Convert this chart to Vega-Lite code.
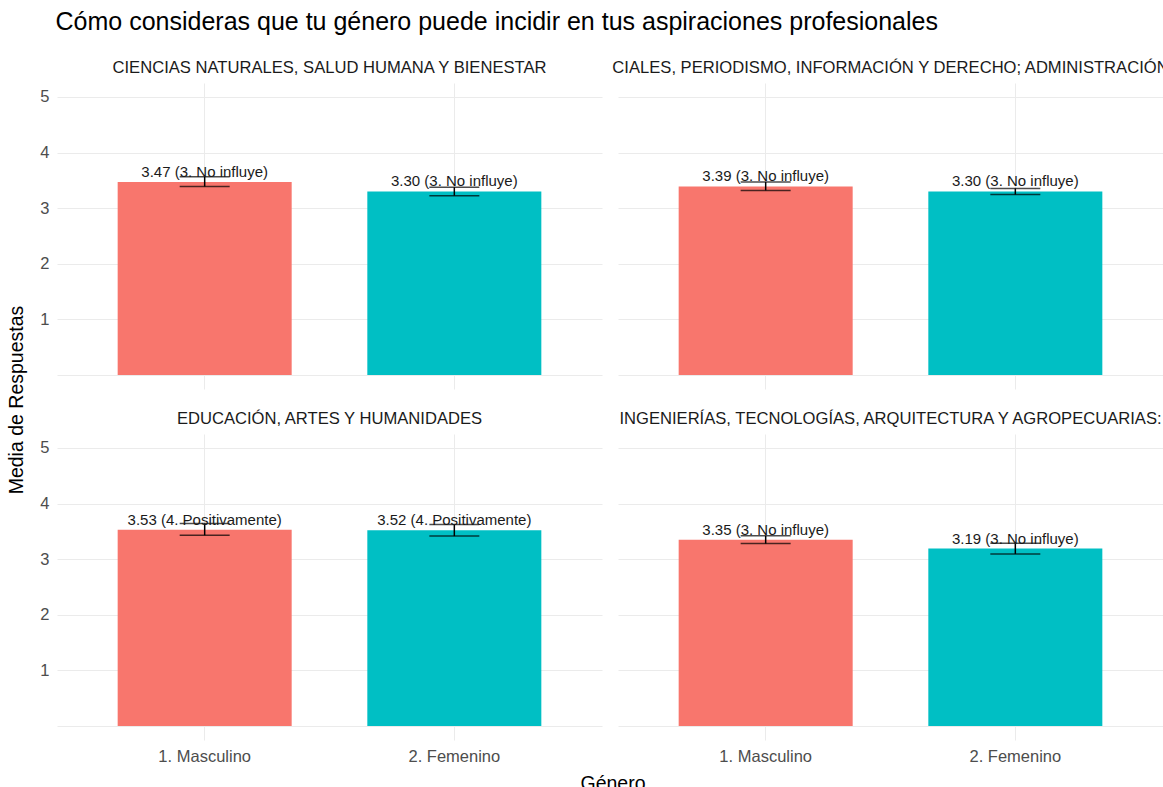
{
  "$schema": "https://vega.github.io/schema/vega-lite/v6.json",
  "padding": {"left": 6, "top": 10, "right": 0, "bottom": 0},
  "background": "white",
  "bounds": "flush",
  "title": {
    "text": "Cómo consideras que tu género puede incidir en tus aspiraciones profesionales",
    "anchor": "start",
    "fontSize": 25,
    "fontWeight": "normal",
    "font": "Liberation Sans",
    "color": "#000000",
    "offset": 25,
    "dx": 49
  },
  "config": {
    "view": {"stroke": null},
    "font": "Liberation Sans",
    "axis": {
      "grid": true,
      "gridColor": "#EBEBEB",
      "gridWidth": 1,
      "domain": false,
      "ticks": false,
      "labelColor": "#4D4D4D",
      "labelFontSize": 16.5,
      "titleFontSize": 19.5,
      "titleFontWeight": "normal",
      "titleColor": "#000000"
    }
  },
  "data": {
    "values": [
      {"area": "CIENCIAS NATURALES, SALUD HUMANA Y BIENESTAR", "fila": 1, "col": 1, "genero": "1. Masculino", "media": 3.47, "lo": 3.39, "hi": 3.565, "etiqueta": "3.47 (3. No influye)"},
      {"area": "CIENCIAS NATURALES, SALUD HUMANA Y BIENESTAR", "fila": 1, "col": 1, "genero": "2. Femenino", "media": 3.30, "lo": 3.225, "hi": 3.375, "etiqueta": "3.30 (3. No influye)"},
      {"area": "CIALES, PERIODISMO, INFORMACIÓN Y DERECHO; ADMINISTRACIÓN", "fila": 1, "col": 2, "genero": "1. Masculino", "media": 3.39, "lo": 3.32, "hi": 3.47, "etiqueta": "3.39 (3. No influye)"},
      {"area": "CIALES, PERIODISMO, INFORMACIÓN Y DERECHO; ADMINISTRACIÓN", "fila": 1, "col": 2, "genero": "2. Femenino", "media": 3.30, "lo": 3.245, "hi": 3.355, "etiqueta": "3.30 (3. No influye)"},
      {"area": "EDUCACIÓN, ARTES Y HUMANIDADES", "fila": 2, "col": 1, "genero": "1. Masculino", "media": 3.53, "lo": 3.43, "hi": 3.64, "etiqueta": "3.53 (4. Positivamente)"},
      {"area": "EDUCACIÓN, ARTES Y HUMANIDADES", "fila": 2, "col": 1, "genero": "2. Femenino", "media": 3.52, "lo": 3.415, "hi": 3.625, "etiqueta": "3.52 (4. Positivamente)"},
      {"area": "INGENIERÍAS, TECNOLOGÍAS, ARQUITECTURA Y AGROPECUARIAS:", "fila": 2, "col": 2, "genero": "1. Masculino", "media": 3.35, "lo": 3.28, "hi": 3.42, "etiqueta": "3.35 (3. No influye)"},
      {"area": "INGENIERÍAS, TECNOLOGÍAS, ARQUITECTURA Y AGROPECUARIAS:", "fila": 2, "col": 2, "genero": "2. Femenino", "media": 3.19, "lo": 3.095, "hi": 3.285, "etiqueta": "3.19 (3. No influye)"}
    ]
  },
  "facet": {
    "row": {
      "field": "fila",
      "type": "ordinal",
      "title": "Media de Respuestas",
      "header": {"labels": false, "titleFontSize": 19.5, "titleFontWeight": "normal", "titleColor": "#000000", "titlePadding": 2}
    },
    "column": {
      "field": "col",
      "type": "ordinal",
      "title": "Género",
      "header": {"labels": false, "titleOrient": "bottom", "titleFontSize": 19.5, "titleFontWeight": "normal", "titleColor": "#000000", "titlePadding": 0}
    }
  },
  "spacing": {"column": 16, "row": 45},
  "spec": {
    "width": 545,
    "height": 306,
    "layer": [
      {
        "mark": {"type": "bar"},
        "encoding": {
          "x": {
            "field": "genero",
            "type": "nominal",
            "title": null,
            "scale": {"paddingInner": 0.303, "paddingOuter": 0.243},
            "axis": {"labelAngle": 0, "labelPadding": 8}
          },
          "y": {
            "field": "media",
            "type": "quantitative",
            "title": null,
            "scale": {"domain": [-0.25, 5.25], "nice": false},
            "axis": {
              "values": [0, 0.5, 1, 1.5, 2, 2.5, 3, 3.5, 4, 4.5, 5],
              "labelExpr": "datum.value >= 1 && datum.value % 1 == 0 ? format(datum.value, 'd') : ''",
              "labelPadding": 8
            }
          },
          "y2": {"datum": 0},
          "color": {
            "field": "genero",
            "type": "nominal",
            "scale": {"domain": ["1. Masculino", "2. Femenino"], "range": ["#F8766D", "#00BFC4"]},
            "legend": null
          }
        }
      },
      {
        "mark": {
          "type": "errorbar",
          "color": "black",
          "ticks": {"size": 50, "thickness": 1.5, "color": "black"},
          "rule": {"strokeWidth": 1.5, "color": "black"}
        },
        "encoding": {
          "x": {"field": "genero", "type": "nominal", "title": null},
          "y": {"field": "lo", "type": "quantitative", "title": null},
          "y2": {"field": "hi"}
        }
      },
      {
        "mark": {"type": "text", "baseline": "alphabetic", "dy": -5, "fontSize": 15, "color": "#1A1A1A"},
        "encoding": {
          "x": {"field": "genero", "type": "nominal", "title": null},
          "y": {"field": "media", "type": "quantitative", "title": null},
          "text": {"field": "etiqueta"}
        }
      },
      {
        "transform": [{"filter": "datum.genero == '1. Masculino'"}],
        "mark": {"type": "text", "baseline": "middle", "dy": -15, "fontSize": 16.6, "color": "#1A1A1A"},
        "encoding": {
          "y": {"datum": 5.25, "type": "quantitative"},
          "text": {"field": "area"}
        }
      }
    ]
  }
}
